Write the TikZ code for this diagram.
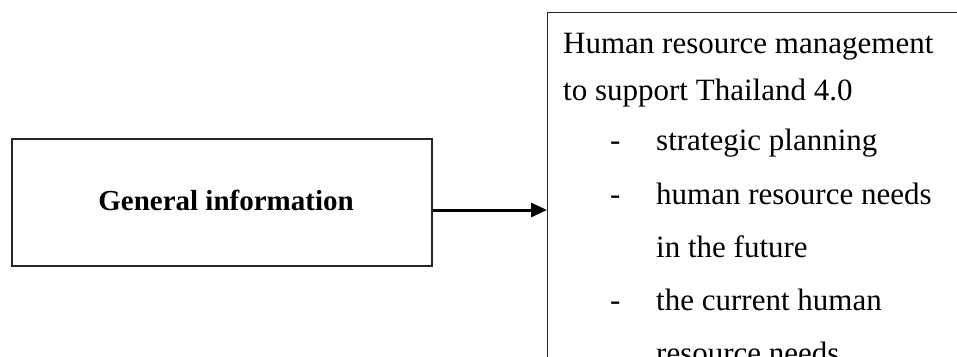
\documentclass[tikz,border=0pt]{standalone}
\usepackage{fontspec}
\setmainfont{Liberation Serif}
\usetikzlibrary{arrows.meta}
\begin{document}
\begin{tikzpicture}[x=1pt,y=-1pt,
  box/.style={draw=black!85, line width=1.2pt, inner sep=0pt},
  txt/.style={anchor=base west, inner sep=0pt, font=\fontsize{31}{36}\selectfont},
  conn/.style={line width=3pt, -{Triangle[length=16pt,width=14pt]}}]
\path[use as bounding box, clip] (0,0) rectangle (957,356);
\fill[white] (0,0) rectangle (957,356);
\node[box, minimum width=420pt, minimum height=127pt] (gen) at (222,202.5) {};
\node[font=\fontsize{29}{34}\selectfont\bfseries, inner sep=0pt, anchor=base] (gentxt) at (226,210) {General information};
\node[box, anchor=north west, minimum width=500pt, minimum height=420pt] (hrm) at (547,12) {};
\draw[conn] (gen.east |- 0,210) -- (hrm.west |- 0,210);
\node[txt] (t1) at (563,53) {Human resource management};
\node[txt] (t2) at (563,100) {to support Thailand 4.0};
\node[txt] (d1) at (610,150) {-};
\node[txt] (t3) at (656,150) {strategic planning};
\node[txt] (d2) at (610,204) {-};
\node[txt] (t4) at (656,204) {human resource needs};
\node[txt] (t5) at (656,257) {in the future};
\node[txt] (d3) at (610,310) {-};
\node[txt] (t6) at (656,310) {the current human};
\node[txt] (t7) at (656,363) {resource needs};
\end{tikzpicture}
\end{document}
